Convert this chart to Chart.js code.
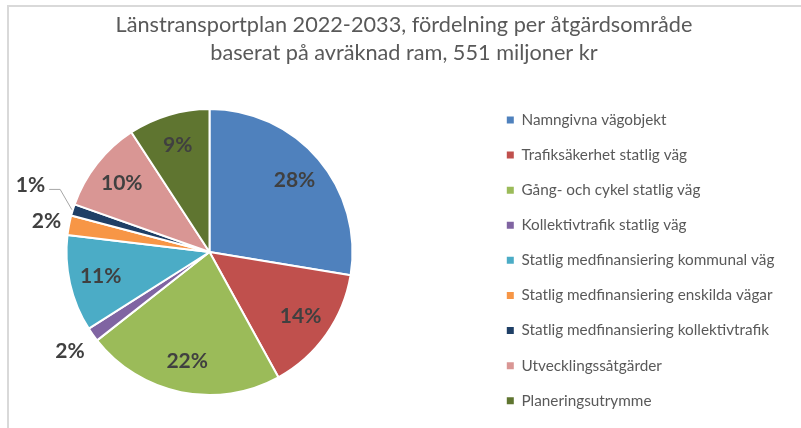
<!DOCTYPE html>
<html>
<head>
<meta charset="utf-8">
<script src="https://cdn.jsdelivr.net/npm/chart.js@4/dist/chart.umd.min.js"></script>
<style>
  html, body { margin: 0; padding: 0; background: #ffffff; overflow: hidden; }
  #wrap { position: relative; width: 801px; height: 428px; }
  #frame { position: absolute; left: 7px; top: 5px; width: 900px; height: 500px;
           border-left: 2px solid #d9d9d9; border-top: 2px solid #d9d9d9; }
  canvas { position: absolute; left: 0; top: 0; }
</style>
</head>
<body>
<div id="wrap">
  <div id="frame"></div>
  <canvas id="c" width="801" height="428"></canvas>
</div>
<script>
const titleLines = ["Länstransportplan 2022-2033, fördelning per åtgärdsområde",
                    "baserat på avräknad ram, 551 miljoner kr"];
const categories = [
  "Namngivna vägobjekt",
  "Trafiksäkerhet statlig väg",
  "Gång- och cykel statlig väg",
  "Kollektivtrafik statlig väg",
  "Statlig medfinansiering kommunal väg",
  "Statlig medfinansiering enskilda vägar",
  "Statlig medfinansiering kollektivtrafik",
  "Utvecklingssåtgärder",
  "Planeringsutrymme"
];
const shares = [27.6, 14.4, 22.4, 1.6, 10.9, 2.2, 1.3, 10.4, 9.2];
const colors = ["#4F81BD", "#C0504D", "#9BBB59", "#8064A2", "#4BACC6",
                "#F79646", "#1F3F66", "#D99694", "#5F7530"];

// label placement styles (not data)
const outsideLabels = {
  3: { dr: 28, dA: 0, leader: false },
  5: { dr: 23, dA: 0, leader: false },
  6: { dr: 48, dA: 3.3, leader: true }
};
const insideRatio = 0.78;

const labelPlugin = {
  id: 'sliceLabels',
  afterDatasetsDraw(chart) {
    const ctx = chart.ctx;
    const meta = chart.getDatasetMeta(0);
    const data = chart.data.datasets[0].data;
    const total = data.reduce((a, b) => a + b, 0);
    ctx.save();
    ctx.font = 'bold 21px Lato';
    ctx.fillStyle = '#404040';
    ctx.textAlign = 'center';
    ctx.textBaseline = 'middle';
    meta.data.forEach((arc, i) => {
      const p = arc.getProps(['x', 'y', 'startAngle', 'endAngle', 'outerRadius'], true);
      const mid = (p.startAngle + p.endAngle) / 2;
      const txt = Math.round(data[i] / total * 100) + '%';
      const o = outsideLabels[i];
      if (!o) {
        const r = p.outerRadius * insideRatio;
        ctx.fillText(txt, p.x + Math.cos(mid) * r, p.y + Math.sin(mid) * r);
      } else {
        const a = mid + o.dA * Math.PI / 180;
        const r = p.outerRadius + o.dr;
        const lx = p.x + Math.cos(a) * r, ly = p.y + Math.sin(a) * r;
        ctx.fillText(txt, lx, ly);
        if (o.leader) {
          const w = ctx.measureText(txt).width;
          const sx = p.x + Math.cos(mid) * (p.outerRadius + 1);
          const sy = p.y + Math.sin(mid) * (p.outerRadius + 1);
          ctx.beginPath();
          ctx.strokeStyle = '#a6a6a6';
          ctx.lineWidth = 1;
          ctx.moveTo(lx + w / 2 + 4, ly + 4);
          ctx.lineTo(lx + w / 2 + 15, ly + 4);
          ctx.lineTo(sx, sy);
          ctx.stroke();
        }
      }
    });
    ctx.restore();
  }
};

const legendPlace = {
  id: 'legendPlace',
  afterLayout(chart) {
    const lg = chart.legend;
    const w = lg.width;
    lg.left = 487; lg.right = lg.left + w;
    lg.top = 92.5; lg.bottom = lg.top + 400;
    lg.height = 400;
    const tb = chart.titleBlock;
    tb.left = 7; tb.right = 801; tb.width = 794;
  }
};

new Chart(document.getElementById('c'), {
  type: 'pie',
  data: {
    labels: categories,
    datasets: [{
      data: shares,
      backgroundColor: colors,
      borderColor: '#ffffff',
      borderWidth: 2
    }]
  },
  options: {
    responsive: false,
    animation: false,
    layout: { padding: { left: 8, right: 100, top: 0, bottom: 32 } },
    plugins: {
      title: {
        display: true,
        text: titleLines,
        color: '#595959',
        font: { family: 'Lato', size: 21.7, weight: 'normal', lineHeight: 1.29 },
        padding: { top: 11, bottom: 41 }
      },
      legend: {
        position: 'right',
        align: 'start',
        maxWidth: 290,
        labels: {
          boxWidth: 7,
          boxHeight: 7,
          padding: 19.8,
          color: '#595959',
          font: { family: 'Lato', size: 15.3 },
          generateLabels(chart) {
            const items = Chart.overrides.pie.plugins.legend.labels.generateLabels(chart);
            return items.map(it => Object.assign(it, { lineWidth: 0 }));
          }
        }
      },
      tooltip: { enabled: false }
    }
  },
  plugins: [labelPlugin, legendPlace]
});
</script>
</body>
</html>
